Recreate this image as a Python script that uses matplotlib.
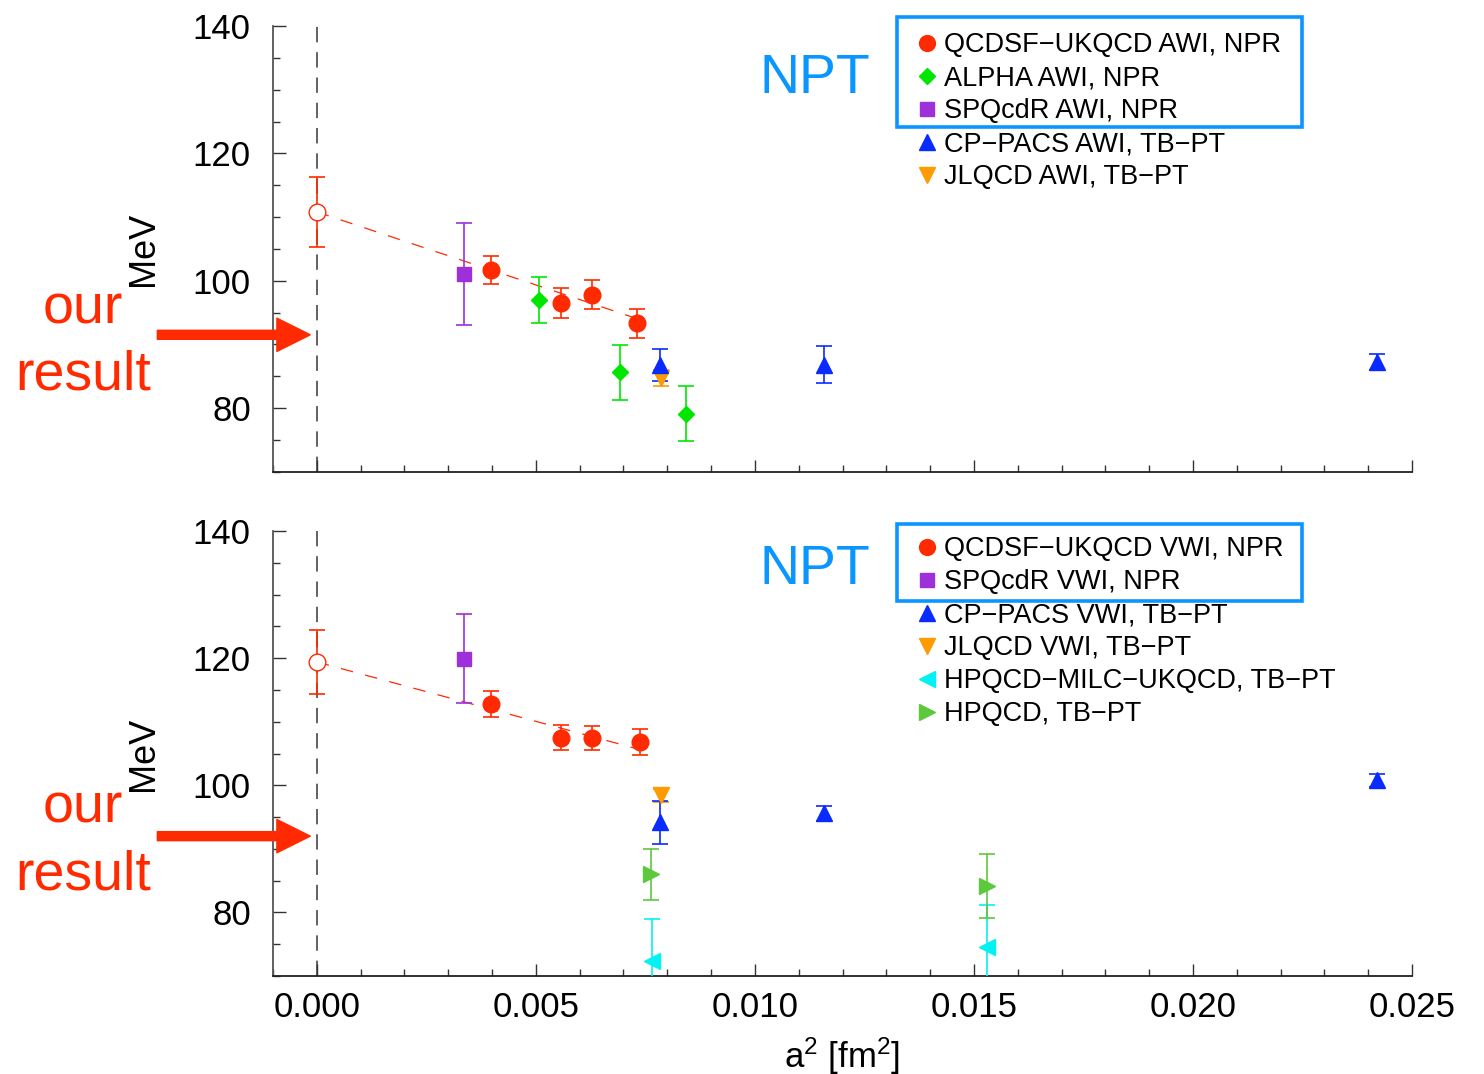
import matplotlib
matplotlib.use("Agg")
import matplotlib.pyplot as plt
from matplotlib.lines import Line2D
from matplotlib.patches import Rectangle
from matplotlib.ticker import MultipleLocator, FormatStrFormatter

plt.rcParams["font.family"] = ["Liberation Sans", "DejaVu Sans"]
plt.rcParams["mathtext.default"] = "regular"

RED = "#ff2a00"
GREEN = "#00e600"
PURPLE = "#9d30d8"
BLUE = "#0a2bff"
ORANGE = "#ff9a00"
CYAN = "#00f2f2"
LGREEN = "#5cc83c"
BOXBLUE = "#0a96ff"

# ---- top panel: AWI ----
awi_extrap = (0.0, 110.8, 5.5)
awi_fit_x = [0.0, 0.0075]
awi_fit_y = [110.8, 93.6]

awi_qcdsf_x = [0.00398, 0.00557, 0.00629, 0.00732]
awi_qcdsf_y = [101.7, 96.5, 97.8, 93.3]
awi_qcdsf_err = [2.2, 2.3, 2.3, 2.3]

awi_alpha_x = [0.00508, 0.00692, 0.00842]
awi_alpha_y = [97.0, 85.6, 79.1]
awi_alpha_err = [3.6, 4.3, 4.3]

awi_spqcdr_x = [0.00335]
awi_spqcdr_y = [101.1]
awi_spqcdr_err = [8.0]

awi_cppacs_x = [0.00784, 0.01158, 0.02421]
awi_cppacs_y = [86.8, 86.8, 87.2]
awi_cppacs_err = [2.5, 2.9, 1.3]

awi_jlqcd_x = [0.00786]
awi_jlqcd_y = [84.7]
awi_jlqcd_err = [1.3]

# ---- bottom panel: VWI ----
vwi_extrap = (0.0, 119.4, 5.0)
vwi_fit_x = [0.0, 0.0076]
vwi_fit_y = [119.4, 105.2]

vwi_qcdsf_x = [0.00398, 0.00557, 0.00629, 0.00737]
vwi_qcdsf_y = [112.8, 107.5, 107.5, 106.8]
vwi_qcdsf_err = [2.0, 2.0, 1.9, 2.0]

vwi_spqcdr_x = [0.00335]
vwi_spqcdr_y = [119.9]
vwi_spqcdr_err = [7.0]

vwi_cppacs_x = [0.00784, 0.01158, 0.02421]
vwi_cppacs_y = [94.2, 95.6, 100.8]
vwi_cppacs_err = [3.4, 1.2, 1.0]

vwi_jlqcd_x = [0.00786]
vwi_jlqcd_y = [98.4]
vwi_jlqcd_err = [1.0]

vwi_hpqcd_milc_x = [0.00765, 0.01529]
vwi_hpqcd_milc_y = [72.3, 74.5]
vwi_hpqcd_milc_err = [6.6, 6.6]

vwi_hpqcd_x = [0.00762, 0.01529]
vwi_hpqcd_y = [86.0, 84.2]
vwi_hpqcd_err = [4.0, 5.0]

# arrow height of "our result" in each panel (MeV)
our_result = [91.5, 92.0]

# marker styles: (marker, color, size)
STYLE = {
    "qcdsf": ("o", RED, 12.0),
    "alpha": ("D", GREEN, 8.2),
    "spqcdr": ("s", PURPLE, 10.0),
    "cppacs": ("^", BLUE, 12.0),
    "jlqcd": ("v", ORANGE, 12.0),
    "hpqcd_milc": ("<", CYAN, 12.0),
    "hpqcd": (">", LGREEN, 12.0),
}


def points(ax, key, x, y, err):
    marker, color, size = STYLE[key]
    ax.errorbar(x, y, yerr=err, fmt=marker, color=color, ms=size, mec=color,
                elinewidth=1.2, capsize=6, capthick=1.2, zorder=3)


def setup_axes(ax, extrap, fit_x, fit_y, arrow_y, text_y):
    ax.set_xlim(-0.001, 0.025)
    ax.set_ylim(70, 140)
    for side in ("top", "right"):
        ax.spines[side].set_visible(False)
    ax.spines["left"].set_color("#555555")
    ax.spines["left"].set_linewidth(1.3)
    ax.spines["bottom"].set_color("#222222")
    ax.spines["bottom"].set_linewidth(1.3)
    ax.xaxis.set_major_locator(MultipleLocator(0.005))
    ax.xaxis.set_minor_locator(MultipleLocator(0.001))
    ax.xaxis.set_major_formatter(FormatStrFormatter("%.3f"))
    ax.yaxis.set_major_locator(MultipleLocator(20))
    ax.yaxis.set_minor_locator(MultipleLocator(5))
    ax.tick_params(which="major", direction="in", length=9, width=1,
                   color="#333333", labelsize=25)
    ax.tick_params(which="minor", direction="in", length=5, width=1,
                   color="#333333")
    ax.tick_params(axis="y", which="major", pad=16)
    ax.tick_params(axis="x", which="major", pad=11)

    ax.axvline(0, color="#555555", lw=1.3, ls=(0, (8.5, 5.5)), zorder=1)
    ax.plot(fit_x, fit_y, color=RED, lw=0.9, ls=(0, (10, 10)), zorder=2)
    x0, y0, e0 = extrap
    ax.errorbar([x0], [y0], yerr=[e0], fmt="o", ms=12, mfc="white", mec=RED,
                color=RED, elinewidth=1.2, capsize=6, capthick=1.2, zorder=4)

    ax.set_ylabel("MeV", fontsize=26)
    ax.yaxis.set_label_coords(-0.098, 0.5)

    ax.text(-0.00534, text_y, "our\nresult", ha="center", va="center",
            fontsize=40, color=RED, linespacing=1.36)
    ax.annotate("", xy=(-0.00015, arrow_y), xytext=(-0.00364, arrow_y),
                arrowprops=dict(width=6.5, headwidth=24, headlength=24,
                                color=RED, shrink=0),
                annotation_clip=False)


def legend(ax, entries, y_top):
    handles = []
    for key, label in entries:
        marker, color, size = STYLE[key]
        handles.append(Line2D([], [], marker=marker, color=color, ls="none",
                              ms=size * 0.95, label=label))
    ax.legend(handles=handles, loc="upper left", frameon=False,
              bbox_to_anchor=(0.6192, y_top), bbox_transform=fig.transFigure,
              fontsize=19.5, borderpad=0, borderaxespad=0, handlelength=0.6,
              handletextpad=0.32, labelspacing=0.26)


fig = plt.figure(figsize=(14.84, 10.74), dpi=100)
W, H = 1484.0, 1074.0
ax1 = fig.add_axes([273 / W, 1 - 471.7 / H, 1139 / W, 445.7 / H])
ax2 = fig.add_axes([273 / W, 1 - 976 / H, 1139 / W, 445 / H])

# top panel
setup_axes(ax1, awi_extrap, awi_fit_x, awi_fit_y, our_result[0], 90.3)
points(ax1, "spqcdr", awi_spqcdr_x, awi_spqcdr_y, awi_spqcdr_err)
points(ax1, "alpha", awi_alpha_x, awi_alpha_y, awi_alpha_err)
points(ax1, "qcdsf", awi_qcdsf_x, awi_qcdsf_y, awi_qcdsf_err)
points(ax1, "jlqcd", awi_jlqcd_x, awi_jlqcd_y, awi_jlqcd_err)
points(ax1, "cppacs", awi_cppacs_x, awi_cppacs_y, awi_cppacs_err)
ax1.tick_params(labelbottom=False)
legend(ax1, [("qcdsf", "QCDSF\u2212UKQCD AWI, NPR"),
             ("alpha", "ALPHA AWI, NPR"),
             ("spqcdr", "SPQcdR AWI, NPR"),
             ("cppacs", "CP\u2212PACS AWI, TB\u2212PT"),
             ("jlqcd", "JLQCD AWI, TB\u2212PT")], 1 - 32 / H)

# bottom panel
setup_axes(ax2, vwi_extrap, vwi_fit_x, vwi_fit_y, our_result[1], 91.1)
points(ax2, "spqcdr", vwi_spqcdr_x, vwi_spqcdr_y, vwi_spqcdr_err)
points(ax2, "qcdsf", vwi_qcdsf_x, vwi_qcdsf_y, vwi_qcdsf_err)
points(ax2, "hpqcd_milc", vwi_hpqcd_milc_x, vwi_hpqcd_milc_y, vwi_hpqcd_milc_err)
points(ax2, "hpqcd", vwi_hpqcd_x, vwi_hpqcd_y, vwi_hpqcd_err)
points(ax2, "jlqcd", vwi_jlqcd_x, vwi_jlqcd_y, vwi_jlqcd_err)
points(ax2, "cppacs", vwi_cppacs_x, vwi_cppacs_y, vwi_cppacs_err)
ax2.set_xlabel("a$^2$ [fm$^2$]", fontsize=25, labelpad=8)
legend(ax2, [("qcdsf", "QCDSF\u2212UKQCD VWI, NPR"),
             ("spqcdr", "SPQcdR VWI, NPR"),
             ("cppacs", "CP\u2212PACS VWI, TB\u2212PT"),
             ("jlqcd", "JLQCD VWI, TB\u2212PT"),
             ("hpqcd_milc", "HPQCD\u2212MILC\u2212UKQCD, TB\u2212PT"),
             ("hpqcd", "HPQCD, TB\u2212PT")], 1 - 536 / H)

# NPR boxes and labels
fig.add_artist(Rectangle((897 / W, 1 - 127 / H), 405 / W, 110 / H, fill=False,
                         ec=BOXBLUE, lw=2.6, transform=fig.transFigure))
fig.add_artist(Rectangle((897 / W, 1 - 601 / H), 405 / W, 77 / H, fill=False,
                         ec=BOXBLUE, lw=2.6, transform=fig.transFigure))
fig.text(759 / W, 1 - 93 / H, "NPT", color=BOXBLUE, fontsize=40,
         ha="left", va="baseline")
fig.text(759 / W, 1 - 584 / H, "NPT", color=BOXBLUE, fontsize=40,
         ha="left", va="baseline")

fig.savefig("out.png", dpi=100)
